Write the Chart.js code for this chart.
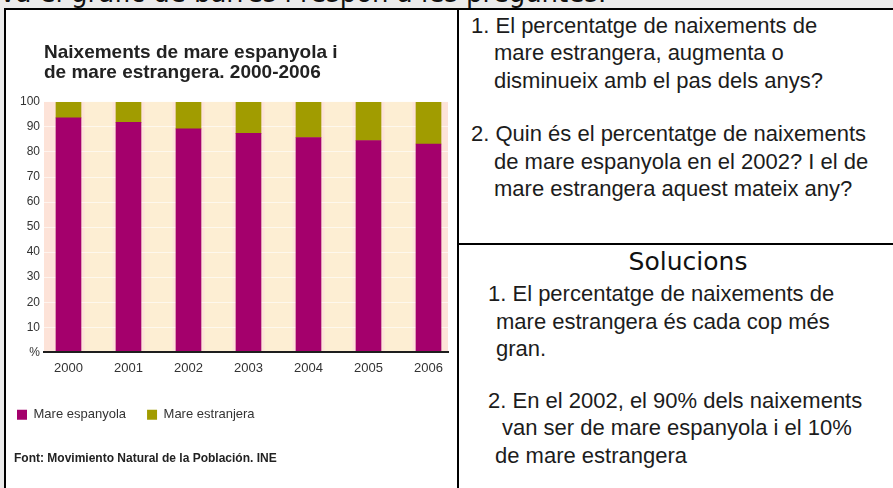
<!DOCTYPE html>
<html lang="ca">
<head>
<meta charset="utf-8">
<title>Naixements de mare espanyola i de mare estrangera. 2000-2006</title>
<script src="https://cdn.jsdelivr.net/npm/chart.js@4.4.1/dist/chart.umd.min.js"></script>
<style>
  html, body { margin: 0; padding: 0; }
  body {
    position: relative; width: 893px; height: 488px; overflow: hidden;
    background: #ebebeb; color: #1c1c1c;
    font-family: 'Liberation Sans', Arial, sans-serif;
  }
  .intro {
    position: absolute; left: 0; top: -22px; white-space: nowrap; color: #111;
    font: 26px/30px 'DejaVu Sans', Verdana, sans-serif;
  }
  .frame { position: absolute; left: 4px; top: 8px; width: 1000px; height: 600px; border: 2px solid #000; background: #fff; }
  .vline { position: absolute; left: 457px; top: 8px; width: 2px; height: 480px; background: #000; }
  .hline { position: absolute; left: 457px; top: 243px; width: 436px; height: 2px; background: #000; }
  .chart-box { position: absolute; left: 6px; top: 10px; width: 451px; height: 478px; }
  .txt { position: absolute; font-size: 22px; line-height: 27.6px; white-space: nowrap; }
  .sol-title {
    position: absolute; left: 458px; top: 247px; width: 460px; text-align: center;
    font: 25px/29px 'DejaVu Sans', Verdana, sans-serif; color: #111;
  }
</style>
</head>
<body>
<div class="intro">va el gràfic de barres i respon a les preguntes:</div>
<div class="frame"></div>
<div class="vline"></div>
<div class="hline"></div>

<div class="chart-box"><canvas id="barChart"></canvas></div>

<div class="txt" style="left:471px; top:11.6px;">
  <div>1. El percentatge de naixements de</div>
  <div style="padding-left:23px">mare estrangera, augmenta o</div>
  <div style="padding-left:23px">disminueix amb el pas dels anys?</div>
</div>
<div class="txt" style="left:471px; top:120.3px;">
  <div>2. Quin és el percentatge de naixements</div>
  <div style="padding-left:23px">de mare espanyola en el 2002? I el de</div>
  <div style="padding-left:23px">mare estrangera aquest mateix any?</div>
</div>

<div class="sol-title">Solucions</div>
<div class="txt" style="left:488px; top:280.3px;">
  <div>1. El percentatge de naixements de</div>
  <div style="padding-left:8px">mare estrangera és cada cop més</div>
  <div style="padding-left:8px">gran.</div>
</div>
<div class="txt" style="left:488px; top:386.6px;">
  <div>2. En el 2002, el 90% dels naixements</div>
  <div style="padding-left:14px">van ser de mare espanyola i el 10%</div>
  <div style="padding-left:7px">de mare estrangera</div>
</div>

<script>
// ── Data ──────────────────────────────────────────────────────
const years        = ['2000', '2001', '2002', '2003', '2004', '2005', '2006'];
const espanyola    = [93.6, 91.8, 89.2, 87.4, 85.8, 84.6, 83.2];
const estrangera   = [6.4, 8.2, 10.8, 12.6, 14.2, 15.4, 16.8];
const seriesLabels = ['Mare espanyola', 'Mare estranjera'];
const chartTitle   = ['Naixements de mare espanyola i', 'de mare estrangera. 2000-2006'];
const sourceText   = 'Font: Movimiento Natural de la Población. INE';

// ── Chart Defaults ────────────────────────────────────────────
Chart.defaults.font.family = "'Liberation Sans', Arial, sans-serif";
Chart.defaults.color       = '#333';

// ── Plot background (peach with cream bands between bars) ─────
const plotBackground = {
  id: 'plotBackground',
  beforeDraw(chart) {
    const { ctx, chartArea: a, scales: { x } } = chart;
    ctx.save();
    ctx.fillStyle = '#fde3d8';
    ctx.fillRect(a.left, a.top, a.right - a.left, a.bottom - a.top);
    ctx.fillStyle = '#fdeed3';
    years.slice(1).forEach((_, i) => {
      const mid = x.getPixelForValue(i + 0.5);
      ctx.fillRect(mid - 14, a.top, 28, a.bottom - a.top);
    });
    ctx.restore();
  },
};

const toPoints = (values) => values.map((v, i) => ({ x: i, y: v }));

// ── Bar Chart ─────────────────────────────────────────────────
const ctx = document.getElementById('barChart');

new Chart(ctx, {
  type: 'bar',
  data: {
    datasets: [
      {
        label:           seriesLabels[0],
        data:            toPoints(espanyola),
        backgroundColor: '#a4006c',
        borderWidth:     0,
        barThickness:    25,
      },
      {
        label:           seriesLabels[1],
        data:            toPoints(estrangera),
        backgroundColor: '#a19c00',
        borderWidth:     0,
        barThickness:    25,
      },
    ],
  },
  options: {
    responsive:          true,
    maintainAspectRatio: false,
    animation:           false,
    layout: { padding: { left: 8, right: 9, top: 0, bottom: 0 } },
    plugins: {
      tooltip: { enabled: false },
      title: {
        display:  true,
        text:     chartTitle,
        align:    'start',
        fullSize: false,
        color:    '#222',
        font:     { size: 19, weight: 'bold', lineHeight: 1.05 },
        padding:  { top: 32.4, bottom: 19.6 },
      },
      subtitle: {
        display:  true,
        text:     sourceText,
        position: 'bottom',
        align:    'start',
        color:    '#222',
        font:     { size: 12, weight: 'bold', lineHeight: 1.2 },
        padding:  { top: 20, bottom: 22.3 },
      },
      legend: {
        position: 'bottom',
        align:    'start',
        labels: {
          color:     '#333',
          font:      { size: 13 },
          boxWidth:  10,
          boxHeight: 10,
          padding:   3,
          // extra gap after each item, as in the printed key
          generateLabels: (chart) =>
            Chart.defaults.plugins.legend.labels.generateLabels(chart)
              .map(l => ({ ...l, text: l.text + '     ' })),
        },
      },
    },
    scales: {
      x: {
        type:    'linear',
        stacked: true,
        offset:  false,
        min:     -0.408,
        max:     6.325,
        grid:    { display: false },
        border:  { display: true, color: '#1e1e1e', width: 2, z: 1 },
        afterBuildTicks: (s) => { s.ticks = years.map((_, i) => ({ value: i })); },
        afterFit:        (s) => { s.height = 53; },
        ticks: {
          color:       '#333',
          font:        { size: 13 },
          padding:     0,
          autoSkip:    false,
          maxRotation: 0,
          callback:    (v) => years[v],
        },
      },
      y: {
        stacked: true,
        min:     0,
        max:     100,
        grid:    { color: 'rgba(255,255,255,0.6)', drawTicks: false },
        border:  { display: false },
        afterFit: (s) => { s.width = 30; },
        ticks: {
          stepSize: 10,
          color:    '#333',
          font:     { size: 12 },
          padding:  4,
          callback: (v) => (v === 0 ? '%' : v),
        },
      },
    },
  },
  plugins: [plotBackground],
});
</script>
</body>
</html>
